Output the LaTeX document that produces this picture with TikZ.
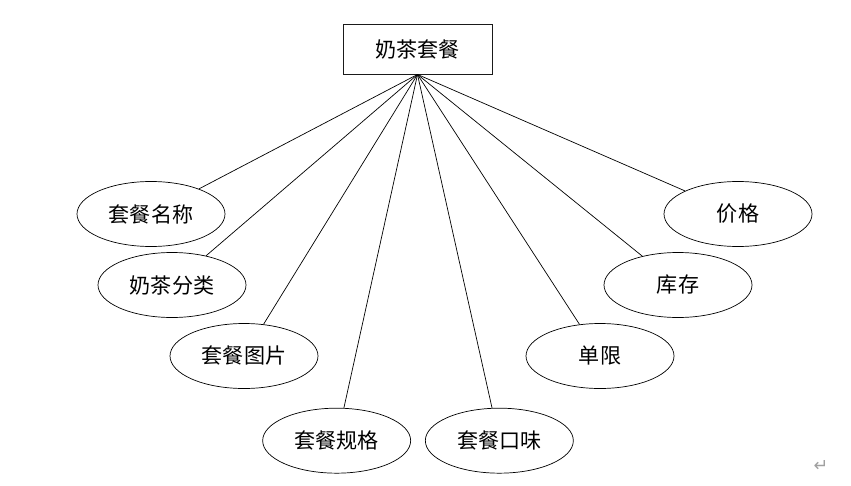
\documentclass[tikz,border=0pt]{standalone}
\usepackage{fontspec}
\usepackage{xcolor}
\usepackage{tikz}
\usetikzlibrary{shapes.geometric}
\newfontfamily\cjk{Noto Sans CJK SC}
\newfontfamily\symfont{DejaVu Sans}
\definecolor{linegray}{HTML}{1A1A1A}
\definecolor{markgray}{HTML}{A0A0A0}
\tikzset{
  entitybox/.style={draw=linegray, line width=0.8pt, align=center, fill=white, inner sep=0pt, minimum width=4.47cm, minimum height=1.5cm, font=\cjk\fontsize{18}{22}\selectfont},
  attr/.style={draw=black, line width=0.6pt, ellipse, align=center, fill=white, inner sep=0pt, minimum width=4.44cm, minimum height=1.95cm, font=\cjk\fontsize{18}{22}\selectfont},
  link/.style={draw=black, line width=0.6pt}
}
\begin{document}
\begin{tikzpicture}
  \useasboundingbox (0,0) rectangle (25.53,-14.55);

  \node[entitybox] (combo) at (12.525,-1.47) {奶茶套餐};

  \node[attr] (name) at (4.53,-6.42) {套餐名称};
  \node[attr] (category) at (5.16,-8.55) {奶茶分类};
  \node[attr] (image) at (7.32,-10.68) {套餐图片};
  \node[attr] (spec) at (10.10,-13.22) {套餐规格};
  \node[attr] (flavor) at (14.98,-13.22) {套餐口味};
  \node[attr] (limit) at (18.0,-10.68) {单限};
  \node[attr] (stock) at (20.34,-8.55) {库存};
  \node[attr] (price) at (22.14,-6.42) {价格};

  \foreach \a in {name,category,image,spec,flavor,limit,stock,price}
    \draw[link] (combo.south) -- (\a);

  \node[text=markgray, font=\symfont\fontsize{15}{16}\selectfont, inner sep=0pt] (mark) at (24.63,-13.98) {↵};
\end{tikzpicture}
\end{document}
